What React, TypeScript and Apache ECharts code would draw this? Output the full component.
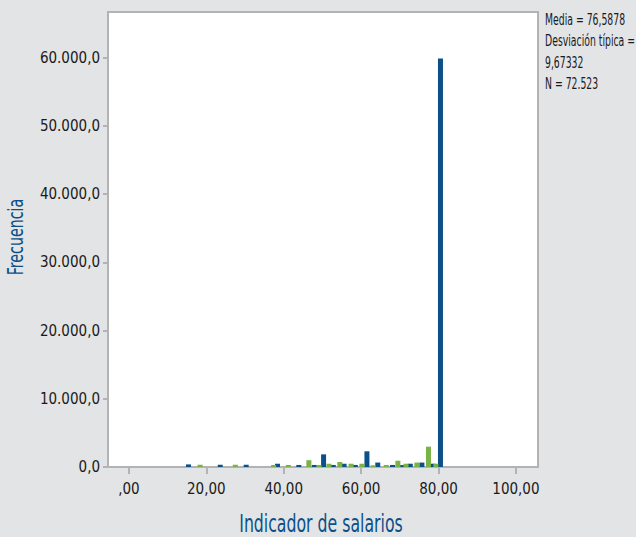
import React, { useEffect, useRef } from "react";
import * as echarts from "echarts";

const blueX = [15.4, 23.6, 30.3, 38.4, 43.9, 47.9, 50.3, 52.8, 55.6, 58.5, 61.5, 64.3, 68.1, 70.7, 72.7, 75.7, 78.5, 80.5];
const blueY = [380, 330, 330, 480, 300, 300, 1850, 300, 480, 300, 2300, 650, 300, 280, 480, 650, 480, 59900];
const greenX = [18.4, 27.5, 37.4, 41.2, 46.5, 49.1, 51.7, 54.5, 57.4, 60.2, 63.1, 66.5, 69.5, 71.6, 74.4, 77.4, 79.3];
const greenY = [330, 330, 300, 300, 1000, 300, 480, 730, 480, 480, 250, 300, 920, 480, 650, 2980, 480];

const xTicks = [0, 20, 40, 60, 80, 100];
const xTickLabels = [",00", "20,00", "40,00", "60,00", "80,00", "100,00"];
const yTicks = [0, 10000, 20000, 30000, 40000, 50000, 60000];
const yTickLabels = ["0,0", "10.000,0", "20.000,0", "30.000,0", "40.000,0", "50.000,0", "60.000,0"];
const statsLines = ["Media = 76,5878", "Desviación típica =", "9,67332", "N = 72.523"];
const xTitle = "Indicador de salarios";
const yTitle = "Frecuencia";

const FONT = '"DejaVu Sans Condensed", "Liberation Sans Narrow", sans-serif';
const BLUE = "#0b5089";
const GREEN = "#79b245";
const GRID_GREY = "#b3b3b3";
const INK = "#1a1a1a";

export default function App() {
  const ref = useRef<HTMLDivElement>(null);
  useEffect(() => {
    document.body.style.margin = "0";
    const chart = echarts.init(ref.current!, null, { renderer: "svg" });
    chart.setOption({
      animation: false,
      backgroundColor: "#e3e4e6",
      textStyle: { fontFamily: FONT },
      grid: {
        left: 108,
        right: 98,
        top: 12,
        bottom: 70,
        outerBoundsMode: "none",
        containLabel: false,
        show: true,
        backgroundColor: "#ffffff",
        borderColor: GRID_GREY,
        borderWidth: 2,
      },
      xAxis: {
        type: "value",
        min: -5.4,
        max: 105.7,
        axisLine: { show: true, onZero: false, lineStyle: { color: GRID_GREY, width: 2 } },
        axisTick: { show: true, customValues: xTicks, length: 7, lineStyle: { color: GRID_GREY, width: 2 } },
        axisLabel: {
          customValues: xTicks,
          margin: 14,
          color: INK,
          fontSize: 15,
          fontFamily: FONT,
          formatter: (v: number) => {
            const i = xTicks.indexOf(Math.round(v));
            return i >= 0 ? xTickLabels[i] : "";
          },
        },
        splitLine: { show: false },
      },
      yAxis: {
        type: "value",
        min: 0,
        max: 66700,
        axisLine: { show: true, onZero: false, lineStyle: { color: GRID_GREY, width: 2 } },
        axisTick: { show: true, customValues: yTicks, length: 5, lineStyle: { color: GRID_GREY, width: 2 } },
        axisLabel: {
          customValues: yTicks,
          margin: 8,
          color: INK,
          fontSize: 15,
          fontFamily: FONT,
          formatter: (v: number) => {
            const i = yTicks.indexOf(Math.round(v));
            return i >= 0 ? yTickLabels[i] : "";
          },
        },
        splitLine: { show: false },
      },
      series: [
        {
          type: "bar",
          name: "blue",
          barWidth: 5,
          barGap: "-100%",
          itemStyle: { color: BLUE },
          data: blueX.map((x, i) => [x, blueY[i]]),
        },
        {
          type: "bar",
          name: "green",
          barWidth: 5,
          barGap: "-100%",
          itemStyle: { color: GREEN },
          data: greenX.map((x, i) => [x, greenY[i]]),
        },
      ],
      graphic: [
        {
          type: "text",
          x: 545,
          y: 9,
          scaleX: 0.69,
          style: {
            text: statsLines.join("\n"),
            fill: INK,
            font: `15px ${FONT}`,
            lineHeight: 21.5,
          },
        },
        {
          type: "text",
          x: 321,
          y: 511,
          scaleX: 0.7,
          style: {
            text: xTitle,
            fill: BLUE,
            font: `25px ${FONT}`,
            align: "center",
            verticalAlign: "top",
          },
        },
        {
          type: "text",
          x: 16,
          y: 237,
          rotation: Math.PI / 2,
          scaleX: 0.72,
          style: {
            text: yTitle,
            fill: BLUE,
            font: `22px ${FONT}`,
            align: "center",
            verticalAlign: "middle",
          },
        },
      ],
    });
    return () => chart.dispose();
  }, []);
  return <div ref={ref} style={{ width: 636, height: 537 }} />;
}
